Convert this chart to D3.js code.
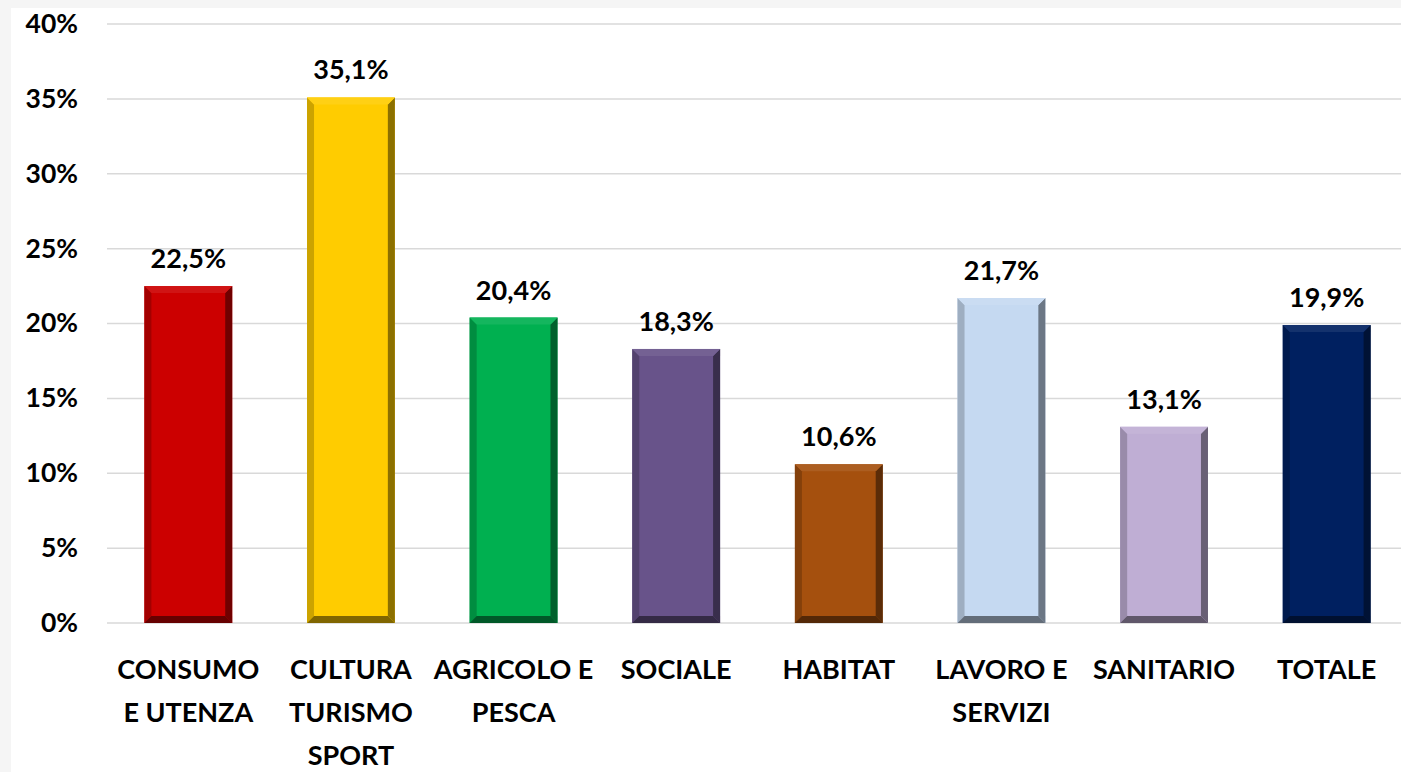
<!DOCTYPE html>
<html>
<head>
<meta charset="utf-8">
<script src="https://cdn.jsdelivr.net/npm/d3@7"></script>
<style>
    html, body { margin: 0; padding: 0; background: #f5f5f5; }
    #chart { width: 1401px; height: 772px; }
    text { font-family: Lato, "Open Sans", sans-serif; font-weight: bold; fill: #000; }
</style>
</head>
<body>
<div id="chart"></div>
<script>
const CATEGORIES = [
    ['CONSUMO', 'E UTENZA'],
    ['CULTURA', 'TURISMO', 'SPORT'],
    ['AGRICOLO E', 'PESCA'],
    ['SOCIALE'],
    ['HABITAT'],
    ['LAVORO E', 'SERVIZI'],
    ['SANITARIO'],
    ['TOTALE']
];
const VALUES = [22.5, 35.1, 20.4, 18.3, 10.6, 21.7, 13.1, 19.9];
const VALUE_LABELS = ['22,5%', '35,1%', '20,4%', '18,3%', '10,6%', '21,7%', '13,1%', '19,9%'];
const Y_TICKS = [0, 5, 10, 15, 20, 25, 30, 35, 40];
const BAR_COLORS = ['#cc0000', '#ffcc00', '#00b050', '#68538a', '#a5500e', '#c5d9f1', '#bfaed4', '#002060'];

function shade(color, k) {
    const c = d3.rgb(color);
    if (k >= 1) return d3.interpolateRgb(c, '#ffffff')(k - 1).toString();
    return d3.rgb(c.r * k, c.g * k, c.b * k).toString();
}

function createChart() {
    const width = 1401, height = 772;
    const svg = d3.select('#chart').append('svg')
        .attr('width', width)
        .attr('height', height);

    // white plot panel over the grey page
    svg.append('rect')
        .attr('x', 11).attr('y', 8)
        .attr('width', width - 11).attr('height', height - 8)
        .attr('fill', '#ffffff');

    const y = d3.scaleLinear().domain([0, 40]).range([623, 24]);
    const x = d3.scaleBand()
        .domain(d3.range(VALUES.length))
        .range([107, 1408])
        .paddingInner(0.46)
        .paddingOuter(0.23);

    // grid
    svg.append('g')
        .selectAll('line')
        .data(Y_TICKS)
        .enter().append('line')
        .attr('x1', 107).attr('x2', width)
        .attr('y1', d => y(d)).attr('y2', d => y(d))
        .attr('stroke', '#d9d9d9')
        .attr('stroke-width', 1.5);

    // y axis labels
    const yAxis = svg.append('g')
        .attr('transform', 'translate(78,0)')
        .call(d3.axisLeft(y).tickValues(Y_TICKS).tickFormat(d => d + '%').tickSize(0).tickPadding(0));
    yAxis.select('.domain').remove();
    yAxis.selectAll('text')
        .attr('font-family', 'Lato, sans-serif')
        .attr('font-weight', 'bold')
        .attr('font-size', 26.5)
        .attr('fill', '#000');

    // bars with bevel
    const b = 7;
    const bars = svg.append('g').selectAll('g')
        .data(VALUES)
        .enter().append('g');

    bars.each(function (d, i) {
        const g = d3.select(this);
        const x0 = x(i), x1 = x(i) + x.bandwidth();
        const y0 = y(d), y1 = y(0);
        const col = BAR_COLORS[i];
        g.append('rect')
            .attr('x', x0).attr('y', y0)
            .attr('width', x1 - x0).attr('height', y1 - y0)
            .attr('fill', col);
        const polys = [
            { pts: [[x0, y0], [x0 + b, y0 + b], [x0 + b, y1 - b], [x0, y1]], k: 0.8 },
            { pts: [[x1, y0], [x1 - b, y0 + b], [x1 - b, y1 - b], [x1, y1]], k: 0.55 },
            { pts: [[x0, y0], [x1, y0], [x1 - b, y0 + b], [x0 + b, y0 + b]], k: 1.08 },
            { pts: [[x0, y1], [x1, y1], [x1 - b, y1 - b], [x0 + b, y1 - b]], k: 0.5 }
        ];
        polys.forEach(p => {
            g.append('polygon')
                .attr('points', p.pts.map(q => q.join(',')).join(' '))
                .attr('fill', shade(col, p.k));
        });
    });

    // value labels
    svg.append('g').selectAll('text')
        .data(VALUES)
        .enter().append('text')
        .attr('x', (d, i) => x(i) + x.bandwidth() / 2)
        .attr('y', d => y(d) - 18)
        .attr('text-anchor', 'middle')
        .attr('font-size', 27)
        .text((d, i) => VALUE_LABELS[i]);

    // category labels
    const cats = svg.append('g').selectAll('text')
        .data(CATEGORIES)
        .enter().append('text')
        .attr('x', (d, i) => x(i) + x.bandwidth() / 2)
        .attr('y', 679)
        .attr('text-anchor', 'middle')
        .attr('font-size', 27);
    cats.selectAll('tspan')
        .data(d => d)
        .enter().append('tspan')
        .attr('x', function () { return d3.select(this.parentNode).attr('x'); })
        .attr('dy', (d, j) => j === 0 ? 0 : 43)
        .text(d => d);
}

document.addEventListener('DOMContentLoaded', createChart);
</script>
</body>
</html>
